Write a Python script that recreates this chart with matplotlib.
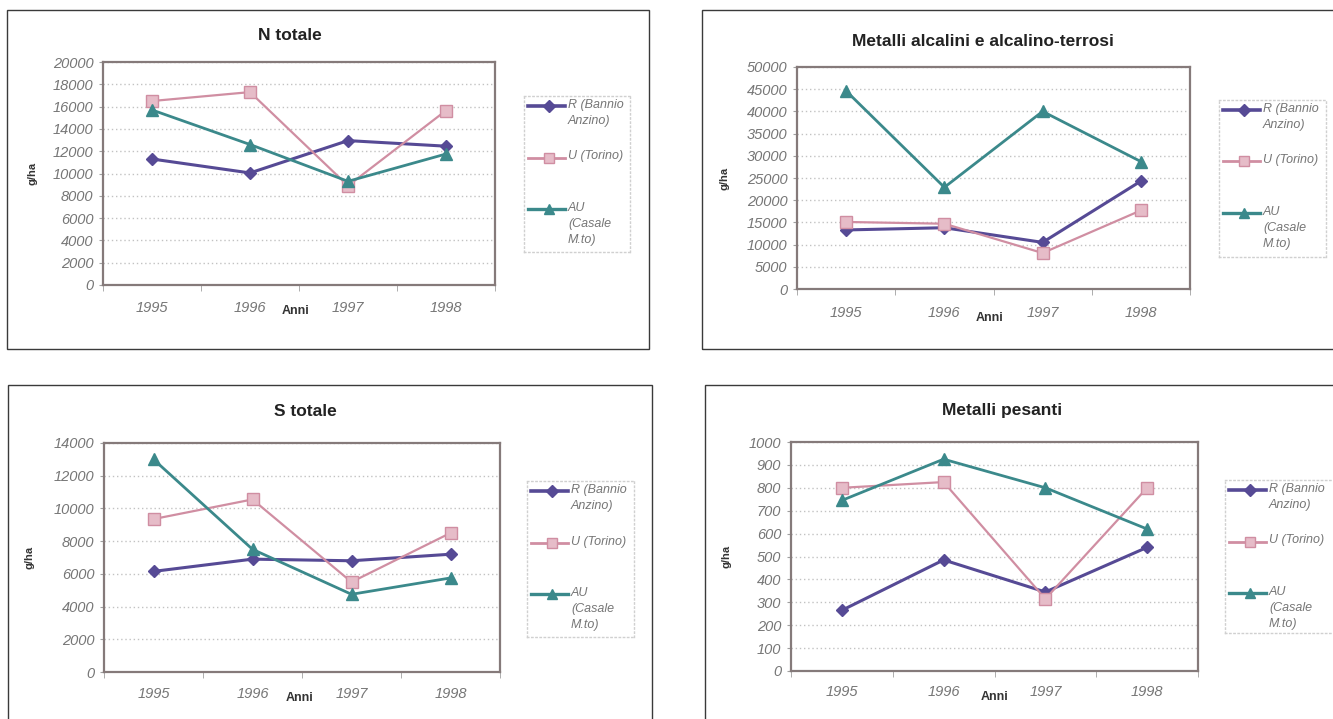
import numpy as np
import matplotlib
matplotlib.use("Agg")
import matplotlib.pyplot as plt
from matplotlib.patches import Rectangle

plt.rcParams["font.family"] = ["Liberation Sans", "DejaVu Sans"]

# Deposition data, g/ha per year
years = ["1995", "1996", "1997", "1998"]
series_names = ["R (Bannio\nAnzino)", "U (Torino)", "AU\n(Casale\nM.to)"]

n_R = [11300, 10050, 12950, 12450]
n_U = [16500, 17300, 8900, 15650]
n_AU = [15700, 12600, 9300, 11750]

alk_R = [13300, 13800, 10500, 24300]
alk_U = [15100, 14700, 8100, 17700]
alk_AU = [44600, 22900, 40000, 28700]

s_R = [6150, 6900, 6800, 7200]
s_U = [9350, 10550, 5500, 8500]
s_AU = [13000, 7500, 4750, 5750]

hm_R = [265, 485, 345, 540]
hm_U = [800, 825, 315, 800]
hm_AU = [745, 925, 800, 620]

titles = ["N totale", "Metalli alcalini e alcalino-terrosi", "S totale", "Metalli pesanti"]
panel_data = [(n_R, n_U, n_AU), (alk_R, alk_U, alk_AU), (s_R, s_U, s_AU), (hm_R, hm_U, hm_AU)]
y_max = [20000, 50000, 14000, 1000]
y_step = [2000, 5000, 2000, 100]

# Pixel layout: outer box, plot area, legend box, title centre, ylabel x, xlabel pos, tick pad
W, H = 1333, 719
layout = [
    dict(box=(7, 10, 649, 349), plot=(103, 62, 495, 285), leg=(524, 96, 630, 252),
         title=(290, 36), ylab=33, xlab=(296, 311), xpad=16),
    dict(box=(702, 10, 1345, 349), plot=(797, 67, 1190, 289), leg=(1219, 100, 1326, 257),
         title=(983, 42), ylab=725, xlab=(990, 318), xpad=17),
    dict(box=(8, 385, 652, 730), plot=(104, 443, 500, 672), leg=(527, 481, 634, 637),
         title=(305, 411), ylab=30, xlab=(300, 698), xpad=15),
    dict(box=(705, 385, 1345, 730), plot=(791, 442, 1198, 671), leg=(1225, 480, 1340, 633),
         title=(1002, 411), ylab=726, xlab=(995, 697), xpad=14),
]

colors = ["#564a95", "#d08ea2", "#3b898b"]
markers = ["D", "s", "^"]
msizes = [6, 8, 8]
lws = [2.2, 1.6, 2.0]
mfaces = ["#564a95", "#e6bcc8", "#3b898b"]
tick_grey = "#767676"


def frac(x0, y0, x1, y1):
    return [x0 / W, 1 - y1 / H, (x1 - x0) / W, (y1 - y0) / H]


fig = plt.figure(figsize=(W / 100, H / 100), dpi=100)

for i, lay in enumerate(layout):
    # outer frame of each chart
    bx0, by0, bx1, by1 = lay["box"]
    fig.add_artist(Rectangle((bx0 / W, 1 - by1 / H), (bx1 - bx0) / W, (by1 - by0) / H,
                             transform=fig.transFigure, fill=False, ec="#3a3a3a", lw=1))

    px0, py0, px1, py1 = lay["plot"]
    ax = fig.add_axes(frac(px0, py0, px1, py1))
    x = np.arange(len(years))
    for vals, c, m, ms, lw, mf in zip(panel_data[i], colors, markers, msizes, lws, mfaces):
        ax.plot(x, vals, color=c, marker=m, ms=ms, lw=lw, mfc=mf, mec=c, clip_on=False, zorder=3)

    ax.set_xlim(-0.5, 3.5)
    ax.set_ylim(0, y_max[i])
    ax.set_yticks(np.arange(0, y_max[i] + 1, y_step[i]))
    ax.yaxis.grid(True, ls=(0, (1, 2)), color="#c2c2c2", lw=1)
    ax.set_axisbelow(True)
    for sp in ax.spines.values():
        sp.set_color("#857a7a")
        sp.set_linewidth(1.6)

    ax.set_xticks(x)
    ax.set_xticklabels(years, fontstyle="italic")
    ax.set_xticks(np.arange(-0.5, 4, 1), minor=True)
    ax.tick_params(axis="x", which="major", length=0, pad=lay["xpad"] * 0.72,
                   labelsize=10.5, labelcolor=tick_grey)
    ax.tick_params(axis="x", which="minor", length=4, color="#a0a0a0")
    ax.tick_params(axis="y", length=3, color="#a0a0a0", pad=4,
                   labelsize=10.5, labelcolor=tick_grey)
    for lab in ax.get_yticklabels():
        lab.set_fontstyle("italic")

    pw, ph = px1 - px0, py1 - py0
    ax.set_ylabel("g/ha", fontweight="bold", fontsize=8, color="#333333")
    ax.yaxis.set_label_coords((lay["ylab"] - px0) / pw, 0.5)
    ax.yaxis.label.set_va("center")
    ax.set_xlabel("Anni", fontweight="bold", fontsize=9, color="#333333")
    ax.xaxis.set_label_coords((lay["xlab"][0] - px0) / pw, (py1 - lay["xlab"][1]) / ph)
    ax.xaxis.label.set_va("center")

    fig.text(lay["title"][0] / W, 1 - lay["title"][1] / H, titles[i],
             ha="center", va="center", fontsize=12.5, fontweight="bold", color="#222222")

    # legend drawn in its own small axes, pixel units
    lx0, ly0, lx1, ly1 = lay["leg"]
    lax = fig.add_axes(frac(lx0, ly0, lx1, ly1))
    lax.set_xlim(0, lx1 - lx0)
    lax.set_ylim(ly1 - ly0, 0)
    lax.set_xticks([])
    lax.set_yticks([])
    for sp in lax.spines.values():
        sp.set_color("#d0d0d0")
        sp.set_linestyle((0, (1, 2)))
        sp.set_linewidth(1)
    for k, (name, c, m, lw, mf) in enumerate(zip(series_names, colors, markers, lws, mfaces)):
        yy = 10 + k * 51.5
        lax.plot([4, 25, 41], [yy, yy, yy], color=c, lw=lw + 0.4, marker=m, markevery=[1],
                 ms=6.5, mfc=mf, mec=c)
        lax.text(44, yy - 7, name, ha="left", va="top", fontsize=9, fontstyle="italic",
                 color=tick_grey, linespacing=1.45)

fig.savefig("out.png", dpi=100)
